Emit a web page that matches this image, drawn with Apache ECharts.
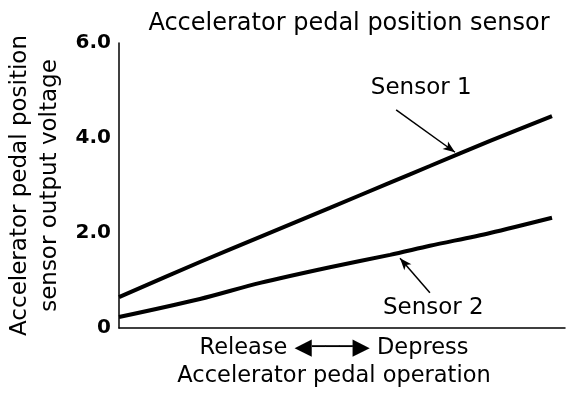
<!DOCTYPE html>
<html>
<head>
<meta charset="utf-8">
<script src="https://cdn.jsdelivr.net/npm/echarts@6/dist/echarts.min.js"></script>
<style>
  html, body { margin: 0; padding: 0; background: #fff; }
  #chart { width: 574px; height: 398px; }
</style>
</head>
<body>
<div id="chart"></div>
<script>
// pedal travel, 0 = released, 100 = fully depressed
const travel = [0, 18.7, 32.6, 48.7, 62.6, 71.8, 85.7, 100];
const sensor1 = [0.65, 1.39, 1.92, 2.53, 3.06, 3.41, 3.94, 4.46];
const sensor2 = [0.23, 0.61, 0.95, 1.28, 1.54, 1.73, 2.00, 2.32];
const yTicks = [0, 2, 4, 6];
const seriesNames = ['Sensor 1', 'Sensor 2'];
// label position and arrow (from -> to) for each sensor
const labelAt = [[69.8, 5.05], [72.6, 0.42]];
const arrows = [
  [[64, 4.59], [77.6, 3.70]],
  [[71.8, 0.74], [64.9, 1.47]],
];

const chart = echarts.init(document.getElementById('chart'));
const font = 'DejaVu Sans, sans-serif';

function makeSeries(i, values) {
  const marks = [[{ coord: arrows[i][0] }, { coord: arrows[i][1] }]];
  if (i === 0) {
    marks.push([{ coord: [100, 0], symbol: 'none' }, { coord: [100, 6.25], symbol: 'none', lineStyle: { type: [4, 4], width: 1.2 } }]);
  }
  return {
    type: 'line',
    name: seriesNames[i],
    data: travel.map((x, k) => [x, values[k]]),
    showSymbol: false,
    smooth: 0.3,
    clip: false,
    lineStyle: { color: '#000', width: 4 },
    markLine: {
      silent: true,
      symbol: ['none', 'arrow'],
      symbolSize: [7, 12],
      label: { show: false },
      lineStyle: { color: '#000', width: 1.5, type: 'solid' },
      data: marks,
    },
    markPoint: {
      symbol: 'circle',
      symbolSize: 0,
      label: {
        show: true,
        formatter: seriesNames[i],
        color: '#000',
        fontFamily: font,
        fontSize: 23,
      },
      data: [{ coord: labelAt[i] }],
    },
  };
}

chart.setOption({
  animation: false,
  title: {
    text: 'Accelerator pedal position sensor',
    left: 344,
    top: 7,
    textAlign: 'center',
    textStyle: { fontFamily: font, fontSize: 24, fontWeight: 'normal', color: '#000' },
  },
  grid: { left: 119, right: 9, top: 43, bottom: 70, outerBoundsMode: 'none' },
  xAxis: {
    type: 'value',
    min: 0,
    max: 103,
    axisLine: { lineStyle: { color: '#000', width: 1.5 } },
    axisTick: { show: false },
    axisLabel: { show: false },
    splitLine: { show: false },
    name: '{a|Release ◀───▶ Depress}\n{a|Accelerator pedal operation}',
    nameLocation: 'middle',
    nameGap: 6,
    nameTextStyle: {
      padding: [0, 16, 0, 0],
      rich: { a: { fontFamily: font, fontSize: 22.5, color: '#000', lineHeight: 28 } },
    },
  },
  yAxis: {
    type: 'value',
    min: 0,
    max: 6,
    interval: 2,
    axisLine: { show: true, lineStyle: { color: '#000', width: 1.5 } },
    axisTick: { show: false },
    splitLine: { show: false },
    axisLabel: {
      color: '#000',
      fontFamily: font,
      fontSize: 20,
      fontWeight: 'bold',
      margin: 8,
      formatter: v => (v === 0 ? '0' : v.toFixed(1)),
      customValues: yTicks,
    },
    name: 'Accelerator pedal position\nsensor output voltage',
    nameLocation: 'middle',
    nameGap: 32,
    nameTextStyle: { fontFamily: font, fontSize: 23, color: '#000', lineHeight: 30 },
  },
  series: [makeSeries(0, sensor1), makeSeries(1, sensor2)],
});
</script>
</body>
</html>
